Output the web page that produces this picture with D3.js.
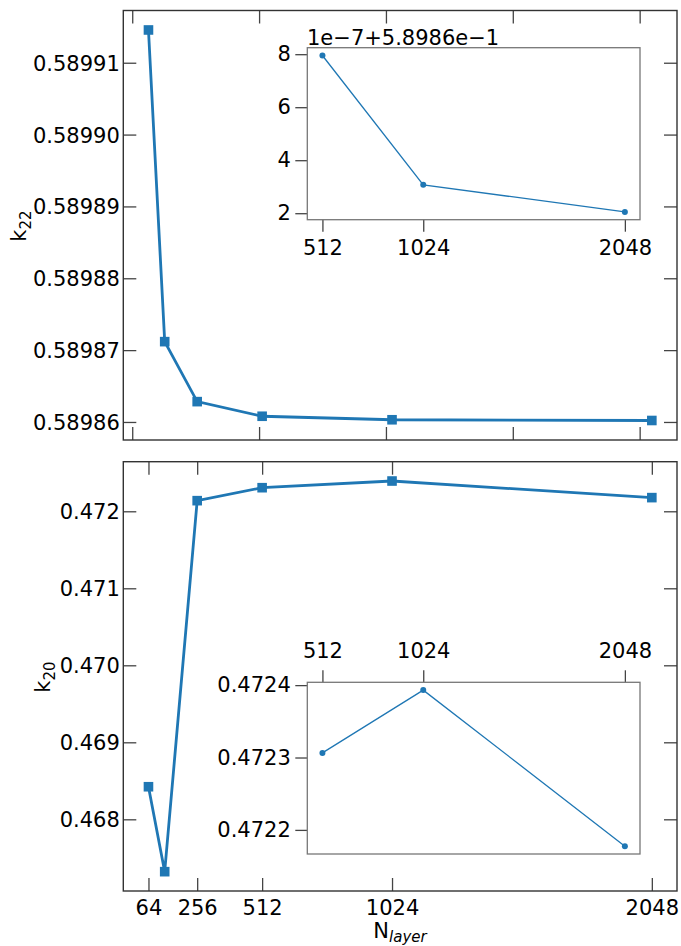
<!DOCTYPE html>
<html><head><meta charset="utf-8">
<script src="https://cdn.jsdelivr.net/npm/d3@7"></script>
<style>body{margin:0;background:#fff}svg{display:block}text{font-family:"DejaVu Sans",sans-serif;fill:#000}</style>
</head><body><div id="c"></div>
<script>
const nLayer = [64, 128, 256, 512, 1024, 2048];
const k22 = [0.58991456, 0.58987118, 0.58986283, 0.589860795, 0.589860307, 0.589860205];
const k20 = [0.468423, 0.467320, 0.472138, 0.4723064, 0.4723931, 0.4721775];
const insetN = [512, 1024, 2048];
const k22Inset = [0.589860795, 0.589860307, 0.589860205];
const k20Inset = [0.4723064, 0.4723931, 0.4721775];
const k22Offset = 0.58986;
const k22Ticks = [0.58986, 0.58987, 0.58988, 0.58989, 0.58990, 0.58991];
const k20Ticks = [0.468, 0.469, 0.470, 0.471, 0.472];
const topXTicks = [0, 500, 1000, 1500, 2000];
const botXTicks = [64, 256, 512, 1024, 2048];
const insetXTicks = [512, 1024, 2048];
const k22InsetTicks = [2, 4, 6, 8];
const k20InsetTicks = [0.4722, 0.4723, 0.4724];

const W = 681, H = 946, C = "#1f77b4", FS = "21px";
const svg = d3.select("#c").append("svg").attr("width", W).attr("height", H);

const L = 123.3, R = 677;
const x = d3.scaleLinear().domain([-35.2, 2147.2]).range([L, R]);
const T1 = 10.5, B1 = 440, T2 = 461.7, B2 = 891;
const y1 = d3.scaleLinear().domain([0.58985749, 0.58991727]).range([B1, T1]);
const y2 = d3.scaleLinear().domain([0.467069, 0.472644]).range([B2, T2]);

function frame(g, l, r, t, b, col, w) {
  g.append("rect").attr("x", l).attr("y", t).attr("width", r - l).attr("height", b - t)
    .attr("fill", "none").attr("stroke", col).attr("stroke-width", w);
}
function styleAxis(a, col) {
  a.select(".domain").remove();
  a.selectAll(".tick line").attr("stroke", col).attr("stroke-width", 1.3);
  a.selectAll(".tick text").attr("fill", "#000").style("font-size", FS).style("font-family", "DejaVu Sans");
}
const tl = 13, tc = "#444";

function mainPanel(y, T, B, data, yTicks, yFmt, xTicks, showX) {
  const g = svg.append("g");
  const al = g.append("g").attr("transform", `translate(${L},0)`)
    .call(d3.axisRight(y).tickValues(yTicks).tickSize(tl).tickFormat(yFmt));
  styleAxis(al, tc);
  al.selectAll(".tick text").attr("x", -3.5).attr("text-anchor", "end").attr("dy", "0.36em");
  const ar = g.append("g").attr("transform", `translate(${R},0)`)
    .call(d3.axisLeft(y).tickValues(yTicks).tickSize(tl).tickFormat(""));
  styleAxis(ar, tc);
  const ab = g.append("g").attr("transform", `translate(0,${B})`)
    .call(d3.axisTop(x).tickValues(xTicks).tickSize(tl).tickFormat(showX ? d3.format("d") : ""));
  styleAxis(ab, tc);
  ab.selectAll(".tick text").attr("y", 9).attr("dy", "0.71em");
  const at = g.append("g").attr("transform", `translate(0,${T})`)
    .call(d3.axisBottom(x).tickValues(xTicks).tickSize(tl).tickFormat(""));
  styleAxis(at, tc);
  frame(g, L, R, T, B, "#333", 1.4);
  const line = d3.line().x((d, i) => x(nLayer[i])).y(d => y(d));
  g.append("path").datum(data).attr("d", line).attr("fill", "none").attr("stroke", C).attr("stroke-width", 2.8);
  g.selectAll(".m").data(data).enter().append("rect")
    .attr("x", (d, i) => x(nLayer[i]) - 4.8).attr("y", d => y(d) - 4.8)
    .attr("width", 9.6).attr("height", 9.6).attr("fill", C);
}
mainPanel(y1, T1, B1, k22, k22Ticks, d3.format(".5f"), topXTicks, false);
mainPanel(y2, T2, B2, k20, k20Ticks, d3.format(".3f"), botXTicks, true);

const IL = 307.3, IR = 640;
const xi = d3.scaleLinear().domain([435.2, 2124.8]).range([IL, IR]);
function inset(T, B, vals, yDom, yTicks, yFmt, xTop) {
  const g = svg.append("g");
  const yi = d3.scaleLinear().domain(yDom).range([B, T]);
  g.append("rect").attr("x", IL).attr("y", T).attr("width", IR - IL).attr("height", B - T).attr("fill", "#fff");
  const ay = g.append("g").attr("transform", `translate(${IL},0)`)
    .call(d3.axisLeft(yi).tickValues(yTicks).tickSize(12).tickPadding(4.5).tickFormat(yFmt));
  styleAxis(ay, tc);
  let ax;
  if (xTop) {
    ax = g.append("g").attr("transform", `translate(0,${T})`)
      .call(d3.axisTop(xi).tickValues(insetXTicks).tickSize(12).tickPadding(12).tickFormat(d3.format("d")));
  } else {
    ax = g.append("g").attr("transform", `translate(0,${B})`)
      .call(d3.axisBottom(xi).tickValues(insetXTicks).tickSize(12).tickPadding(8).tickFormat(d3.format("d")));
  }
  styleAxis(ax, tc);
  frame(g, IL, IR, T, B, "#777", 1.3);
  const line = d3.line().x((d, i) => xi(insetN[i])).y(d => yi(d));
  g.append("path").datum(vals).attr("d", line).attr("fill", "none").attr("stroke", C).attr("stroke-width", 1.3);
  g.selectAll(".p").data(vals).enter().append("circle")
    .attr("cx", (d, i) => xi(insetN[i])).attr("cy", d => yi(d)).attr("r", 3).attr("fill", C);
  return g;
}
const k22Scaled = k22Inset.map(v => (v - k22Offset) * 1e7);
const gi1 = inset(47.7, 219.7, k22Scaled, [1.755, 8.245], k22InsetTicks, d3.format("d"), false);
gi1.append("text").attr("x", 307).attr("y", 45).style("font-size", FS).text("1e\u22127+5.8986e\u22121");
inset(682.3, 854, k20Inset, [0.4721667, 0.4724039], k20InsetTicks, d3.format(".4f"), true);

function ylab(cx, cy, sub) {
  const t = svg.append("text").attr("transform", `translate(${cx},${cy}) rotate(-90)`)
    .attr("text-anchor", "middle").style("font-size", FS);
  t.append("tspan").text("k");
  t.append("tspan").attr("dy", 5).style("font-size", "15px").text(sub);
}
ylab(26, 226, "22");
ylab(50, 677, "20");
const xl = svg.append("text").attr("x", 400).attr("y", 938).attr("text-anchor", "middle").style("font-size", FS);
xl.append("tspan").text("N");
xl.append("tspan").attr("dy", 4).style("font-size", "15px").style("font-style", "italic").text("layer");
</script></body></html>
